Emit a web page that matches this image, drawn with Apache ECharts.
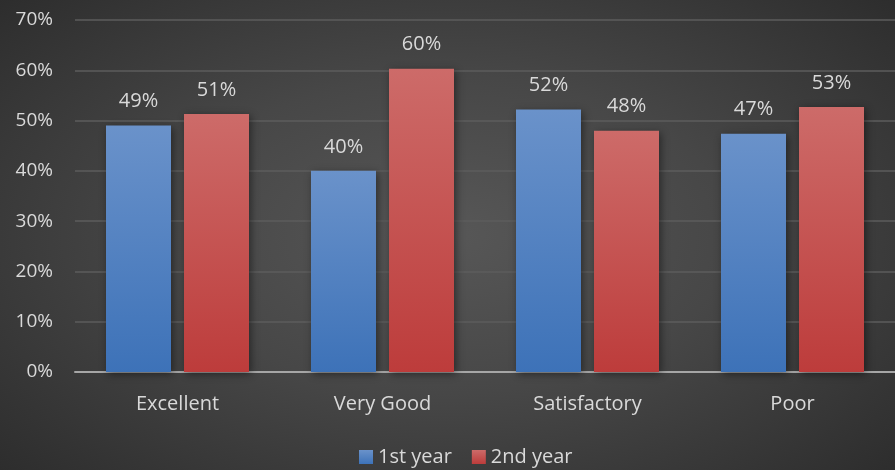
<!DOCTYPE html>
<html>
<head>
<meta charset="utf-8">
<script src="https://cdn.jsdelivr.net/npm/echarts@6/dist/echarts.min.js"></script>
<style>
  html, body { margin: 0; padding: 0; }
  #main {
    width: 895px; height: 470px;
    background: radial-gradient(ellipse 70% 75% at 50% 50%, #575757 0%, #474747 45%, #2c2c2c 100%);
  }
</style>
</head>
<body>
<div id="main"></div>
<script>
var categories = ['Excellent', 'Very Good', 'Satisfactory', 'Poor']
var firstYear = [49, 40, 52.2, 47.4]
var secondYear = [51.3, 60.3, 48, 52.7]
var seriesNames = ['1st year', '2nd year']

var chart = echarts.init(document.getElementById('main'))
var textColor = '#d9d9d9'
var fontFamily = '"Open Sans", "Liberation Sans", sans-serif'

function barColor(top, bottom) {
  return new echarts.graphic.LinearGradient(0, 0, 0, 1, [
    { offset: 0, color: top },
    { offset: 1, color: bottom }
  ])
}

var labelOpt = {
  show: true,
  position: 'top',
  distance: 14,
  color: textColor,
  fontSize: 20,
  fontFamily: fontFamily,
  formatter: function (p) { return Math.round(p.value) + '%' }
}

chart.setOption({
  backgroundColor: 'transparent',
  textStyle: { fontFamily: fontFamily },
  grid: { left: 75, right: -8, top: 20, bottom: 98 },
  legend: {
    data: seriesNames,
    left: 354,
    bottom: -2,
    itemWidth: 14,
    itemHeight: 14,
    itemGap: 20,
    icon: 'rect',
    textStyle: { color: textColor, fontSize: 20, fontFamily: fontFamily }
  },
  xAxis: {
    type: 'category',
    data: categories,
    axisTick: { show: false },
    axisLine: { lineStyle: { color: '#a6a6a6', width: 2 } },
    axisLabel: { color: textColor, fontSize: 20, margin: 22, fontFamily: fontFamily }
  },
  yAxis: {
    type: 'value',
    min: 0,
    max: 70,
    interval: 10,
    axisLine: { show: false },
    axisTick: { show: false },
    splitLine: { lineStyle: { color: '#5c5c5c', width: 1.5 } },
    axisLabel: {
      color: textColor, fontSize: 19, margin: 22, fontFamily: fontFamily,
      formatter: '{value}%'
    }
  },
  series: [
    {
      name: seriesNames[0],
      type: 'bar',
      data: firstYear,
      barWidth: 65,
      barGap: '20%',
      itemStyle: {
        color: barColor('#6a92ca', '#3d72b8'),
        shadowColor: 'rgba(0,0,0,0.45)',
        shadowBlur: 8,
        shadowOffsetX: 2,
        shadowOffsetY: 2
      },
      label: labelOpt
    },
    {
      name: seriesNames[1],
      type: 'bar',
      data: secondYear,
      barWidth: 65,
      itemStyle: {
        color: barColor('#cd6b69', '#bd3c3b'),
        shadowColor: 'rgba(0,0,0,0.45)',
        shadowBlur: 8,
        shadowOffsetX: 2,
        shadowOffsetY: 2
      },
      label: labelOpt
    }
  ]
})
</script>
</body>
</html>
